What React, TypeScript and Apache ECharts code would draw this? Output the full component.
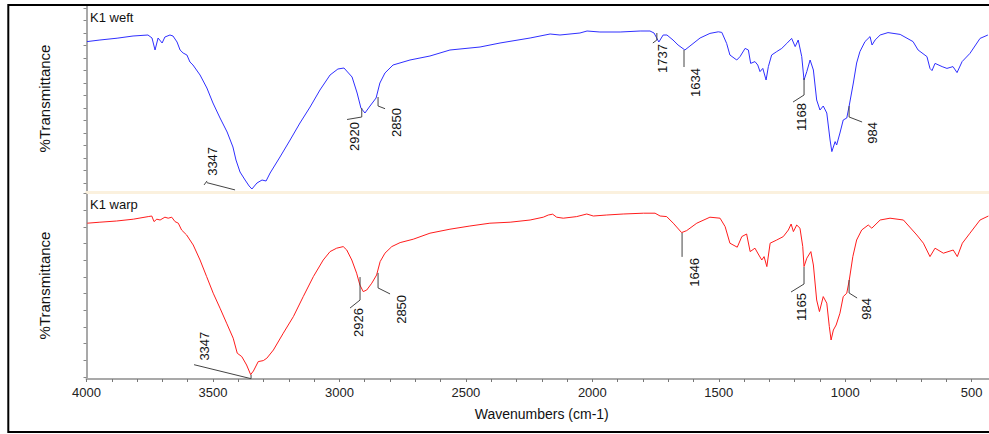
import React, { useEffect, useRef } from "react";
import * as echarts from "echarts";

// ---------- data (wavenumber cm-1, %T arbitrary scale) ----------
const weftWavenumbers = [
  3998, 3947, 3879, 3816, 3757, 3741, 3729, 3717, 3701, 3690, 3670, 3658, 3642, 3630, 3618, 3603, 3591, 3579,
  3551, 3524, 3500, 3472, 3444, 3421, 3409, 3393, 3373, 3357, 3346, 3326, 3306, 3290, 3274, 3235, 3195, 3156,
  3116, 3077, 3037, 3006, 2982, 2950, 2930, 2915, 2899, 2879, 2855, 2840, 2820, 2788, 2721, 2642, 2563, 2444,
  2365, 2246, 2167, 2128, 2049, 2021, 1970, 1890, 1811, 1772, 1756, 1737, 1720, 1705, 1681, 1661, 1634, 1614,
  1574, 1535, 1502, 1488, 1469, 1456, 1429, 1416, 1396, 1383, 1374, 1357, 1346, 1337, 1326, 1313, 1304, 1291,
  1271, 1251, 1231, 1218, 1212, 1198, 1186, 1172, 1163, 1152, 1139, 1126, 1113, 1100, 1087, 1073, 1060, 1053,
  1040, 1034, 1021, 1008, 994, 985, 968, 955, 942, 922, 902, 894, 882, 862, 831, 783, 732, 712, 677, 665, 657,
  645, 617, 598, 574, 558, 538, 507, 467, 436,
];
const weftT = [
  75.2, 76, 76.9, 78, 78.5, 77, 71, 77, 74.5, 77.5, 78.5, 78, 75, 71, 69.5, 68.5, 65, 63.5,
  58.5, 52, 44.5, 37, 30, 22.5, 16, 10, 6, 3, 1.5, 4.5, 6, 5.5, 9.5, 17.5, 26, 34.5,
  42.5, 51, 58.5, 61.5, 62, 57.5, 49.5, 42, 39.5, 43, 47, 54.5, 59.5, 63.5, 66, 68, 71, 72.5,
  74.5, 77, 79, 78.5, 79.5, 80.5, 80, 80, 80.5, 80.5, 79.5, 75, 78.5, 78.5, 76, 73.5, 71, 73,
  77, 79.3, 80.1, 79.8, 74.3, 68.5, 66, 67.7, 71.8, 71, 64.3, 65.2, 63.5, 60.2, 61.8, 56, 62.7, 68.5,
  70.2, 71.8, 74.3, 76, 76.8, 72.7, 76, 67.7, 56, 60.2, 66, 61, 46, 41, 43, 39.5, 26, 20.2,
  25.2, 23.5, 29.5, 36, 37, 42.7, 54.5, 64.5, 70.2, 75.2, 77.7, 73.5, 76, 78.5, 79.7, 78.8, 75.2, 71, 67.7, 61.8, 60.7,
  64.3, 62.7, 61.8, 62.7, 59.7, 65.2, 69.3, 76.8, 78.5,
];
const warpWavenumbers = [
  3997, 3947, 3881, 3815, 3756, 3742, 3733, 3722, 3709, 3690, 3677, 3663, 3650, 3637, 3624, 3604, 3578, 3551,
  3525, 3499, 3472, 3446, 3420, 3404, 3386, 3367, 3351, 3340, 3321, 3301, 3287, 3261, 3222, 3182, 3143, 3103,
  3064, 3037, 3011, 2985, 2971, 2951, 2932, 2919, 2906, 2892, 2872, 2853, 2839, 2820, 2793, 2760, 2708, 2642,
  2563, 2484, 2405, 2325, 2246, 2194, 2174, 2157, 2141, 2115, 2062, 2022, 1996, 1943, 1878, 1798, 1752, 1732,
  1706, 1680, 1647, 1627, 1587, 1535, 1495, 1475, 1456, 1427, 1409, 1390, 1376, 1357, 1344, 1330, 1321, 1310,
  1297, 1271, 1245, 1225, 1214, 1205, 1192, 1179, 1168, 1163, 1152, 1136, 1126, 1113, 1102, 1087, 1073, 1063,
  1056, 1047, 1036, 1021, 1008, 994, 984, 970, 955, 935, 909, 895, 862, 823, 770, 717, 691, 665, 645, 612, 573,
  557, 537, 507, 467, 434,
];
const warpT = [
  77.9, 78.4, 79, 79.9, 81.2, 81.5, 78.7, 79.9, 79.5, 80.9, 80.4, 80.9, 78.7, 77.9, 74.5, 72, 67, 59.5,
  51.2, 42.9, 35.4, 27.9, 20.4, 12.9, 11.2, 7, 2.2, 4, 8.7, 9.2, 10.4, 14.5, 22.9, 31.2, 41.2, 51.2,
  59.5, 63.7, 65.4, 66.2, 64.5, 59.5, 52.9, 47, 43.7, 44.5, 47.9, 52, 58.7, 62.9, 66.2, 68.2, 69.9, 72.9,
  74.9, 76.5, 77.9, 78.4, 79.5, 80.9, 82, 82.4, 80.9, 80.4, 81.2, 82.5, 81.5, 82, 82.5, 82.9, 82.9, 81.5,
  81.2, 77.9, 73.2, 74.2, 77.9, 80.9, 80.4, 76.2, 67.9, 65.9, 71.2, 72.5, 63.7, 65.4, 62.5, 59.5, 61.2, 56.2,
  67.9, 69.5, 71.2, 74.5, 77.5, 73.7, 77, 75.4, 66.2, 56.2, 60.4, 63.7, 57, 39.5, 33.7, 41.2, 37.9, 26.2,
  19.5, 24.5, 27, 32.9, 41.2, 42.9, 49.5, 61.2, 69.5, 74.5, 77, 75.4, 79.5, 80.4, 79.5, 72, 67.9, 61.2, 65.4, 62.9, 64.5,
  61.2, 67.9, 72.9, 79.5, 81.5,
];

const xTickLabels = [4000, 3500, 3000, 2500, 2000, 1500, 1000, 500];
const weftYTicks = [4.5, 10.75, 17, 23.25, 29.5, 35.75, 42, 48.25, 54.5, 60.75, 67, 73.25, 79.5, 85.75, 92];
const warpYTicks = [1, 9.33, 17.67, 26, 34.33, 42.67, 51, 59.33, 67.67, 76, 84.33, 92.67];

const weftPeaks = [3347, 2920, 2850, 1737, 1634, 1168, 984];
const warpPeaks = [3347, 2926, 2850, 1646, 1165, 984];
const panelNames = ["K1 weft", "K1 warp"];

// ---------- callout geometry (pixel offsets from the peak anchor) ----------
type Callout = { lines: number[][][]; text: [number, number] };
const weftCallouts: Callout[] = [
  { lines: [[[-16.6, 1.2], [-44.9, -6.1]], [[-47.6, -3.8], [-44.6, -7.8]]], text: [-39.6, -41.8] },
  { lines: [[[2.1, 5], [2.1, 14], [-12.6, 16.5]]], text: [-5.6, 19] },
  { lines: [[[0.7, 4], [0.7, 13], [7.7, 15.7]]], text: [18.7, 15] },
  { lines: [[[-2, -9], [-2, -2], [-6, 1]]], text: [3.5, 2] },
  { lines: [[[-0.9, 0], [-0.9, 17]]], text: [10.1, 18] },
  { lines: [[[1.3, 11], [1.3, 28], [-9.7, 35]]], text: [-1.7, 36] },
  { lines: [[[-0.2, 0.8], [-0.2, 11.8], [12.8, 16.8]]], text: [22.8, 16.8] },
];
const warpCallouts: Callout[] = [
  { lines: [[[-57.6, -8.6], [-0.6, 5.4]], [[-0.6, 1.4], [-0.6, 5.4]]], text: [-47.6, -41.6] },
  { lines: [[[1.9, -1.6], [1.9, 21.4], [-8.1, 29.4]]], text: [-0.1, 29.4] },
  { lines: [[[0.7, 0.8], [0.7, 15.8], [12.7, 21.8]]], text: [23.7, 22.8] },
  { lines: [[[0.2, 0.4], [0.2, 24.4]]], text: [12.2, 25.4] },
  { lines: [[[0.5, 8.4], [0.5, 25.4], [-12.5, 33.4]]], text: [-2.5, 34.4] },
  { lines: [[[-0.2, 0], [-0.2, 13], [7.8, 18]]], text: [16.8, 18] },
];

const FONT = "Liberation Sans, Arial, Helvetica, sans-serif";

function interp(wns: number[], ts: number[], wn: number): number {
  for (let i = 0; i < wns.length - 1; i++) {
    const a = wns[i], b = wns[i + 1];
    if ((wn <= a && wn >= b) || (wn >= a && wn <= b)) {
      const f = a === b ? 0 : (wn - a) / (b - a);
      return ts[i] + f * (ts[i + 1] - ts[i]);
    }
  }
  return ts[ts.length - 1];
}

export default function App() {
  const ref = useRef<HTMLDivElement>(null);

  useEffect(() => {
    if (!ref.current) return;
    const chart = echarts.init(ref.current, null, { renderer: "svg" });

    const gridLeft = 86.5;
    const gridWidth = 910.5;
    const axisGray = "#a9a9a9";

    const yAxisCommon = (ticks: number[], max: number, gridIndex: number) => ({
      type: "value" as const,
      gridIndex,
      min: 0,
      max,
      name: "%Transmittance",
      nameLocation: "middle" as const,
      nameGap: 35,
      nameRotate: 90,
      nameTextStyle: { fontSize: 15, color: "#111", fontFamily: FONT },
      axisLine: { show: true, lineStyle: { color: axisGray, width: 2 } },
      axisTick: { show: true, length: 3, customValues: ticks, lineStyle: { color: "#888", width: 1 } },
      axisLabel: { show: false },
      splitLine: { show: false },
    });

    chart.setOption({
      animation: false,
      backgroundColor: "#ffffff",
      grid: [
        { left: gridLeft, top: 5, width: gridWidth, height: 187 },
        { left: gridLeft, top: 192, width: gridWidth, height: 187 },
      ],
      xAxis: [
        {
          type: "value",
          gridIndex: 0,
          min: 400,
          max: 4000,
          inverse: true,
          axisLine: { show: true, onZero: false, lineStyle: { color: "#fbf1de", width: 3 } },
          axisTick: { show: false },
          axisLabel: { show: false },
          splitLine: { show: false },
        },
        {
          type: "value",
          gridIndex: 1,
          min: 400,
          max: 4000,
          interval: 100,
          inverse: true,
          name: "Wavenumbers (cm-1)",
          nameLocation: "middle",
          nameGap: 28,
          nameTextStyle: { fontSize: 14, color: "#111", fontFamily: FONT },
          axisLine: { show: true, onZero: false, lineStyle: { color: axisGray, width: 2 } },
          axisTick: { show: true, length: 3, lineStyle: { color: "#777", width: 1 } },
          axisLabel: {
            margin: 7,
            fontSize: 13,
            color: "#222",
            fontFamily: FONT,
            formatter: (v: number) => (xTickLabels.indexOf(v) >= 0 ? String(v) : ""),
          },
          splitLine: { show: false },
        },
      ],
      yAxis: [yAxisCommon(weftYTicks, 93.5, 0), yAxisCommon(warpYTicks, 93.5, 1)],
      series: [
        {
          type: "line",
          xAxisIndex: 0,
          yAxisIndex: 0,
          data: weftWavenumbers.map((w, i) => [w, weftT[i]]),
          showSymbol: false,
          symbol: "none",
          lineStyle: { color: "#2f2fff", width: 1 },
          silent: true,
        },
        {
          type: "line",
          xAxisIndex: 1,
          yAxisIndex: 1,
          data: warpWavenumbers.map((w, i) => [w, warpT[i]]),
          showSymbol: false,
          symbol: "none",
          lineStyle: { color: "#ff1c1c", width: 1 },
          silent: true,
        },
      ],
    });

    const graphics: any[] = [];
    const panels = [
      { peaks: weftPeaks, callouts: weftCallouts, wns: weftWavenumbers, ts: weftT },
      { peaks: warpPeaks, callouts: warpCallouts, wns: warpWavenumbers, ts: warpT },
    ];
    panels.forEach((p, gi) => {
      p.peaks.forEach((wn, k) => {
        const t = interp(p.wns, p.ts, wn);
        const pt = chart.convertToPixel({ gridIndex: gi }, [wn, t]) as number[];
        const c = p.callouts[k];
        c.lines.forEach((ln) => {
          graphics.push({
            type: "polyline",
            silent: true,
            shape: { points: ln.map(([dx, dy]) => [pt[0] + dx, pt[1] + dy]) },
            style: { stroke: "#444", lineWidth: 1, fill: null },
            z: 10,
          });
        });
        graphics.push({
          type: "text",
          silent: true,
          x: pt[0] + c.text[0],
          y: pt[1] + c.text[1],
          rotation: Math.PI / 2,
          style: {
            text: String(wn),
            font: `13px ${FONT}`,
            fill: "#111",
            align: "right",
            verticalAlign: "middle",
            textAlign: "right",
            textVerticalAlign: "middle",
          },
          z: 10,
        });
      });
      const top = chart.convertToPixel({ gridIndex: gi }, [4000, 93.5]) as number[];
      graphics.push({
        type: "text",
        silent: true,
        x: top[0] + 3.5,
        y: top[1] + 6,
        style: {
          text: panelNames[gi],
          font: `13px ${FONT}`,
          fill: "#111",
          align: "left",
          verticalAlign: "top",
          textAlign: "left",
          textVerticalAlign: "top",
        },
        z: 10,
      });
    });
    graphics.push({
      type: "rect",
      silent: true,
      shape: { x: 8.3, y: 5, width: 1100, height: 427 },
      style: { stroke: "#000", lineWidth: 2, fill: null },
      z: 20,
    });

    chart.setOption({ graphic: graphics });

    return () => chart.dispose();
  }, []);

  return (
    <div
      style={{
        position: "absolute",
        left: 0,
        top: 0,
        width: 989,
        height: 434,
        overflow: "hidden",
        background: "#fff",
      }}
    >
      <div ref={ref} style={{ width: 1000, height: 434 }} />
    </div>
  );
}
